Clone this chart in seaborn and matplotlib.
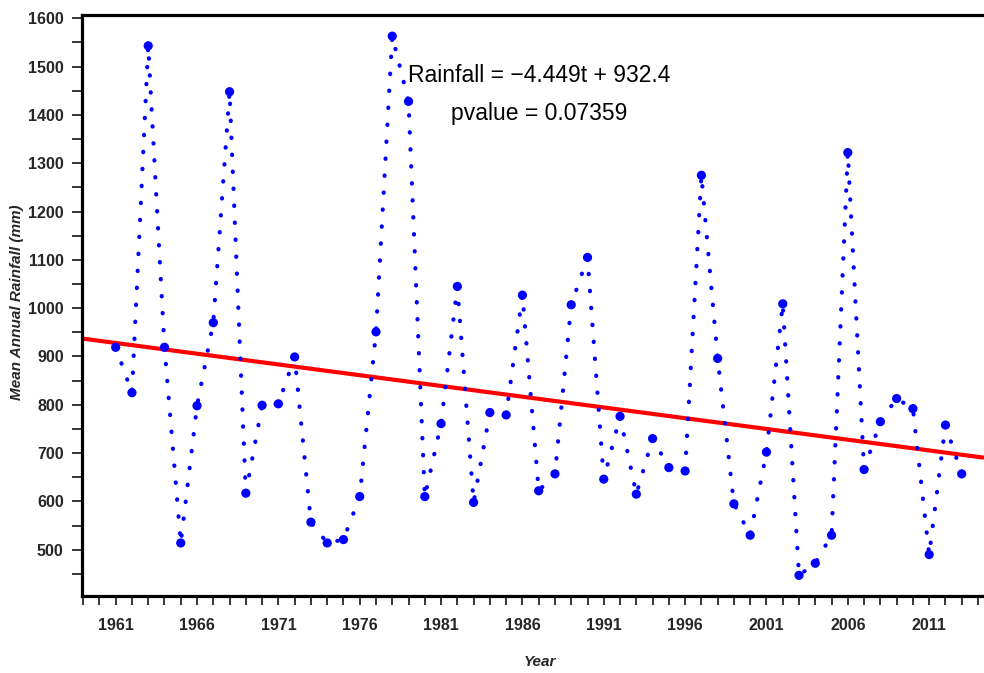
import numpy as np
import pandas as pd
import matplotlib
matplotlib.use("Agg")
import matplotlib.pyplot as plt
from matplotlib.ticker import MultipleLocator, FixedLocator
import seaborn as sns

# ---------------- data ----------------
years = list(range(1961, 2014))
rainfall = [919, 825, 1543, 919, 514, 798, 970, 1448, 617, 799,
            802, 899, 557, 514, 521, 610, 951, 1563, 1428, 610,
            761, 1045, 598, 784, 779, 1027, 622, 657, 1007, 1105,
            646, 776, 615, 730, 670, 663, 1275, 896, 595, 530,
            702, 1009, 447, 472, 530, 1322, 666, 765, 813, 792,
            490, 758, 657]
trend_slope = -4.449
trend_intercept = 932.4
trend_origin = 1960
x_ticklabels = ["1961", "1966", "1971", "1976", "1981", "1986",
                "1991", "1996", "2001", "2006", "2011"]
eq_text = "Rainfall = \u22124.449t + 932.4"
p_text = "pvalue = 0.07359"

df = pd.DataFrame({"year": years, "rain": rainfall})

# ---------------- layout ----------------
sns.set_theme(style="ticks")
plt.rcParams["font.family"] = ["Liberation Sans", "DejaVu Sans"]
plt.rcParams["path.simplify"] = False

FW, FH = 984, 673
fig = plt.figure(figsize=(FW / 100, FH / 100), dpi=100)
L, R, T, B = 82, 984, 15, 596
ax = fig.add_axes([L / FW, 1 - B / FH, (R - L) / FW, (B - T) / FH])
XMIN, XMAX = 1958.93, 2014.37
YMIN, YMAX = 404.2, 1606.8
ax.set_xlim(XMIN, XMAX)
ax.set_ylim(YMIN, YMAX)
W, H = R - L, B - T

# trend line
ax.axline((trend_origin, trend_intercept), slope=trend_slope,
          color="red", lw=3.0, zorder=2, solid_capstyle="butt")

# dotted connecting line
sns.lineplot(data=df, x="year", y="rain", sort=False, estimator=None,
             color="blue", lw=3.0, ax=ax, zorder=3)
ln = ax.lines[-1]
ln.set_linestyle((0, (0.1, 3.98)))
ln.set_dash_capstyle("round")

# markers
sns.scatterplot(data=df, x="year", y="rain", s=44, color="blue",
                edgecolor="none", linewidth=0, ax=ax, zorder=4)

# ---------------- axes styling ----------------
for side in ["left", "top", "bottom"]:
    ax.spines[side].set_linewidth(2.3)
    ax.spines[side].set_color("black")
ax.spines["right"].set_visible(False)

ax.xaxis.set_major_locator(FixedLocator([int(v) for v in x_ticklabels]))
ax.set_xticklabels(x_ticklabels)
ax.xaxis.set_minor_locator(MultipleLocator(1))
ax.yaxis.set_major_locator(MultipleLocator(100))
ax.yaxis.set_minor_locator(MultipleLocator(50))

ax.tick_params(axis="x", which="both", direction="out", length=6.5,
               width=1.1, color="black", top=False)
ax.tick_params(axis="x", which="major", pad=9, labelsize=11.5)
ax.tick_params(axis="y", which="both", direction="out", length=7.2,
               width=1.1, color="black", right=False)
ax.tick_params(axis="y", which="major", pad=6, labelsize=11.5)
for lab in ax.get_xticklabels() + ax.get_yticklabels():
    lab.set_fontweight("bold")

ax.set_xlabel("Year", fontsize=11, fontweight="bold", fontstyle="italic")
ax.set_ylabel("Mean Annual Rainfall (mm)", fontsize=11, fontweight="bold",
              fontstyle="italic")
ax.xaxis.set_label_coords((539.5 - L) / W, -(655 - B) / H)
ax.yaxis.set_label_coords((24 - L) / W, 0.5 + (305.5 - 302) / H)

ax.text(1987.0, 1482, eq_text, fontsize=16.5, ha="center", va="center",
        color="black")
ax.text(1987.0, 1403, p_text, fontsize=16.5, ha="center", va="center",
        color="black")

ax.grid(False)
fig.savefig("out.png", dpi=100)
